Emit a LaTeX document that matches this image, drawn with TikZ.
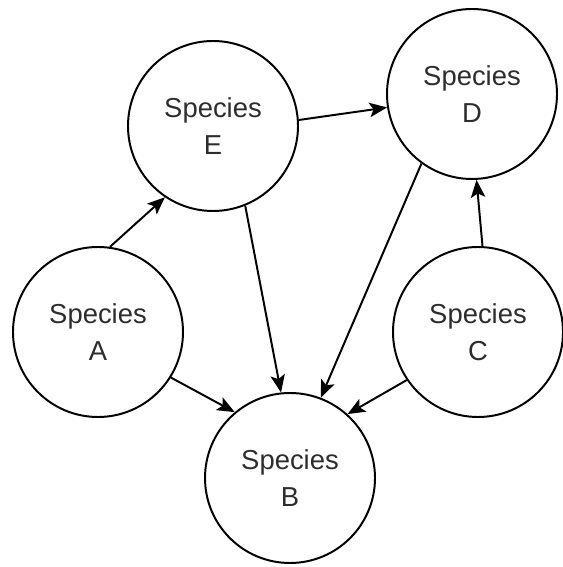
\documentclass[tikz,border=0pt]{standalone}
\usepackage{fontspec}
\setmainfont{Liberation Sans}
\usetikzlibrary{arrows.meta}
\usepackage{xcolor}
\definecolor{spectext}{RGB}{45,45,45}

\begin{document}
\begin{tikzpicture}[font=\fontsize{19.5}{26}\selectfont, >={Stealth[length=0.44cm,width=0.36cm,inset=0.1cm]},
  species/.style={draw, circle, line width=1.4pt, minimum size=4.25cm, inner sep=0pt, align=center, text=spectext},
  link/.style={->, line width=1.4pt}]
\useasboundingbox (0,0) rectangle (14.05,14.175);
\node[species] (E) at (5.325,11.025) {Species\\E};
\node[species] (D) at (11.8,11.825) {Species\\D};
\node[species] (A) at (2.45,5.875) {Species\\A};
\node[species] (C) at (11.95,5.875) {Species\\C};
\node[species] (B) at (7.25,2.225) {Species\\B};
\draw[link] (A.82) -- (E.236);
\draw[link] (E.4) -- (D.189);
\draw[link] (E.292) -- (B.96);
\draw[link] (D.234) -- (B.69);
\draw[link] (C.87) -- (D.273);
\draw[link] (C.214) -- (B.48);
\draw[link] (A.328) -- (B.130);
\end{tikzpicture}
\end{document}
